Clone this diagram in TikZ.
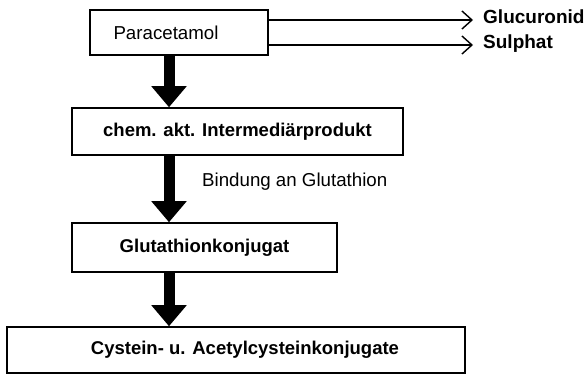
\documentclass[tikz,border=0pt]{standalone}
\usepackage{fontspec}
\setmainfont{Liberation Sans}
\usetikzlibrary{arrows.meta}

\begin{document}
\begin{tikzpicture}[x=1pt,y=-1pt,
	box/.style={draw,line width=1.5pt,inner sep=0pt,font=\bfseries\fontsize{18.5}{22}\selectfont},
	txt/.style={inner sep=0pt,font=\fontsize{18.7}{22}\selectfont},
	side/.style={inner sep=0pt,anchor=base west,font=\bfseries\fontsize{19}{22}\selectfont},
	bigarrow/.style={line width=11pt,-{Triangle[length=21pt,width=34pt]}},
	thinarrow/.style={line width=1.3pt,-{Straight Barb[length=10pt,width=18pt,line width=1.4pt]}}]
	\useasboundingbox (0,0) rectangle (587,374);

	% boxes of the pathway
	\node[box,minimum width=178pt,minimum height=45pt,label={[txt,xshift=-13pt]center:Paracetamol}] (para) at (179,32.5) {};
	\node[box,minimum width=331pt,minimum height=47pt] (inter) at (237.5,131.5) {chem. akt. Intermediärprodukt};
	\node[box,minimum width=265pt,minimum height=49pt] (gluta) at (204.5,247.5) {Glutathionkonjugat};
	\node[box,minimum width=458pt,minimum height=46pt,label={[box,draw=none,xshift=9pt]center:Cystein- u. Acetylcysteinkonjugate}] (cyst) at (236,350) {};

	% side products
	\node[side] (gluc) at (483,24) {Glucuronid};
	\node[side] (sulph) at (483,49) {Sulphat};
	\draw[thinarrow] ([yshift=4pt]para.east |- gluc.base west) -- ([shift={(-10pt,4pt)}]gluc.base west);
	\draw[thinarrow] ([yshift=4pt]para.east |- sulph.base west) -- ([shift={(-10pt,4pt)}]sulph.base west);

	% main arrows
	\coordinate (col) at (169,0);
	\draw[bigarrow] (para.south -| col) -- (inter.north -| col);
	\draw[bigarrow] (inter.south -| col) -- (gluta.north -| col);
	\draw[bigarrow] (gluta.south -| col) -- (cyst.north -| col);
	\node[txt,anchor=west] (bind) at (202,182) {Bindung an Glutathion};
\end{tikzpicture}
\end{document}
